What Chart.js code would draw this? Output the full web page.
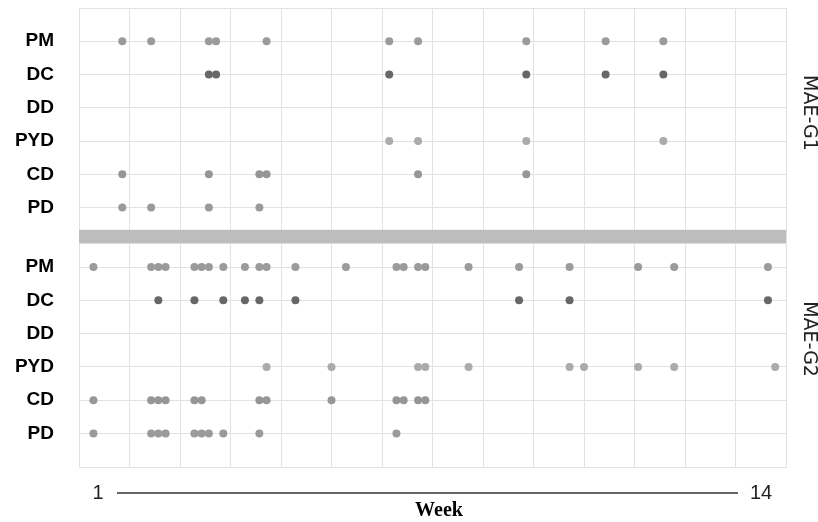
<!DOCTYPE html>
<html>
<head>
<meta charset="utf-8">
<script src="https://cdn.jsdelivr.net/npm/chart.js@4.4.1/dist/chart.umd.min.js"></script>
<style>
  body { margin: 0; background: #fff; }
  #wrap { width: 818px; height: 522px; position: relative; }
</style>
</head>
<body>
<div id="wrap"><canvas id="dotChart"></canvas></div>
<script>
// categories (rows, top to bottom in each panel)
var categories = ["PM", "DC", "DD", "PYD", "CD", "PD"];
var groups = ["MAE-G1", "MAE-G2"];
var weekLabels = ["1", "14"];

// day of the course (week 1 starts at day 0, 7 days per week)
var g1PM = [6, 10, 18, 19, 26, 43, 47, 62, 73, 81];
var g1DC = [18, 19, 43, 62, 73, 81];
var g1DD = [];
var g1PYD = [43, 47, 62, 81];
var g1CD = [6, 18, 25, 26, 47, 62];
var g1PD = [6, 10, 18, 25];

var g2PM = [2, 10, 11, 12, 16, 17, 18, 20, 23, 25, 26, 30, 37, 44, 45, 47, 48, 54, 61, 68, 77.5, 82.5, 95.5];
var g2DC = [11, 16, 20, 23, 25, 30, 61, 68, 95.5];
var g2DD = [];
var g2PYD = [26, 35, 47, 48, 54, 68, 70, 77.5, 82.5, 96.5];
var g2CD = [2, 10, 11, 12, 16, 17, 25, 26, 35, 44, 45, 47, 48];
var g2PD = [2, 10, 11, 12, 16, 17, 18, 20, 25, 44];

var colors = { PM: "#9b9b9b", DC: "#676767", DD: "#9b9b9b", PYD: "#ababab", CD: "#969696", PD: "#9a9a9a" };

// vertical layout in row units
var g1Rows = [1, 2, 3, 4, 5, 6];
var g2Rows = [7.79, 8.79, 9.79, 10.79, 11.79, 12.79];
var bandTop = 6.67, bandBottom = 7.07, yMax = 13.8;

var tickVals = [0].concat(g1Rows, [bandBottom], g2Rows, [yMax]);
var tickText = [""].concat(categories, [""], categories, [""]);

var g1 = [g1PM, g1DC, g1DD, g1PYD, g1CD, g1PD];
var g2 = [g2PM, g2DC, g2DD, g2PYD, g2CD, g2PD];

var datasets = [];
categories.forEach(function (c, i) {
    datasets.push({
        label: "G1 " + c,
        data: g1[i].map(function (d) { return { x: d, y: g1Rows[i] }; }),
        backgroundColor: colors[c]
    });
    datasets.push({
        label: "G2 " + c,
        data: g2[i].map(function (d) { return { x: d, y: g2Rows[i] }; }),
        backgroundColor: colors[c]
    });
});

var decor = {
    id: "decor",
    beforeDatasetsDraw: function (chart) {
        var ctx = chart.ctx, a = chart.chartArea, y = chart.scales.y;
        var t = y.getPixelForValue(bandTop), b = y.getPixelForValue(bandBottom);
        ctx.save();
        ctx.fillStyle = "#bdbdbd";
        ctx.fillRect(a.left, t, a.right - a.left, b - t);
        ctx.restore();
    },
    afterDraw: function (chart) {
        var ctx = chart.ctx, a = chart.chartArea, y = chart.scales.y;
        ctx.save();
        // group labels on the right
        ctx.fillStyle = "#222";
        ctx.font = "19px 'DejaVu Sans'";
        ctx.textAlign = "center";
        ctx.textBaseline = "middle";
        var mids = [(y.getPixelForValue(0) + y.getPixelForValue(bandTop)) / 2 - 6,
                    (y.getPixelForValue(bandBottom) + y.getPixelForValue(yMax)) / 2 - 16];
        groups.forEach(function (g, i) {
            ctx.save();
            ctx.translate(809, mids[i]);
            ctx.rotate(Math.PI / 2);
            ctx.fillText(g, 0, 0);
            ctx.restore();
        });
        // week axis
        ctx.fillStyle = "#222";
        ctx.font = "20px 'Liberation Sans'";
        ctx.fillText(weekLabels[0], 98, 493);
        ctx.fillText(weekLabels[1], 761, 493);
        ctx.strokeStyle = "#333";
        ctx.lineWidth = 1.5;
        ctx.beginPath();
        ctx.moveTo(117, 493);
        ctx.lineTo(738, 493);
        ctx.stroke();
        ctx.fillStyle = "#000";
        ctx.font = "bold 20px 'Liberation Serif'";
        ctx.textBaseline = "alphabetic";
        ctx.fillText("Week", 439, 516);
        ctx.restore();
    }
};

function noPad(s) {
    s.paddingTop = 0;
    s.paddingBottom = 0;
    s.paddingLeft = 0;
    s.paddingRight = 0;
}

var ctxD = document.getElementById("dotChart").getContext("2d");
var dotChart = new Chart(ctxD, {
    type: "scatter",
    data: { datasets: datasets },
    options: {
        responsive: true,
        maintainAspectRatio: false,
        animation: false,
        events: [],
        layout: { padding: { top: 8, right: 32, bottom: 55, left: 0 } },
        elements: { point: { radius: 4, borderWidth: 0 } },
        plugins: { legend: { display: false }, tooltip: { enabled: false } },
        scales: {
            x: {
                type: "linear",
                min: 0,
                max: 98,
                ticks: { display: false, stepSize: 7 },
                grid: { color: "#e2e2e2", drawTicks: false },
                border: { color: "#e2e2e2" },
                afterFit: function (s) { s.height = 0; noPad(s); }
            },
            y: {
                type: "linear",
                reverse: true,
                min: 0,
                max: yMax,
                afterBuildTicks: function (s) {
                    s.ticks = tickVals.map(function (v) { return { value: v }; });
                },
                ticks: {
                    padding: 25,
                    color: "#000",
                    font: { family: "'Liberation Sans', Arial", size: 19, weight: "bold" },
                    callback: function (v, i) { return tickText[i]; }
                },
                grid: { color: "#e2e2e2", drawTicks: false },
                border: { color: "#e2e2e2" },
                afterFit: function (s) { s.width = 79; noPad(s); }
            }
        }
    },
    plugins: [decor]
});
</script>
</body>
</html>
